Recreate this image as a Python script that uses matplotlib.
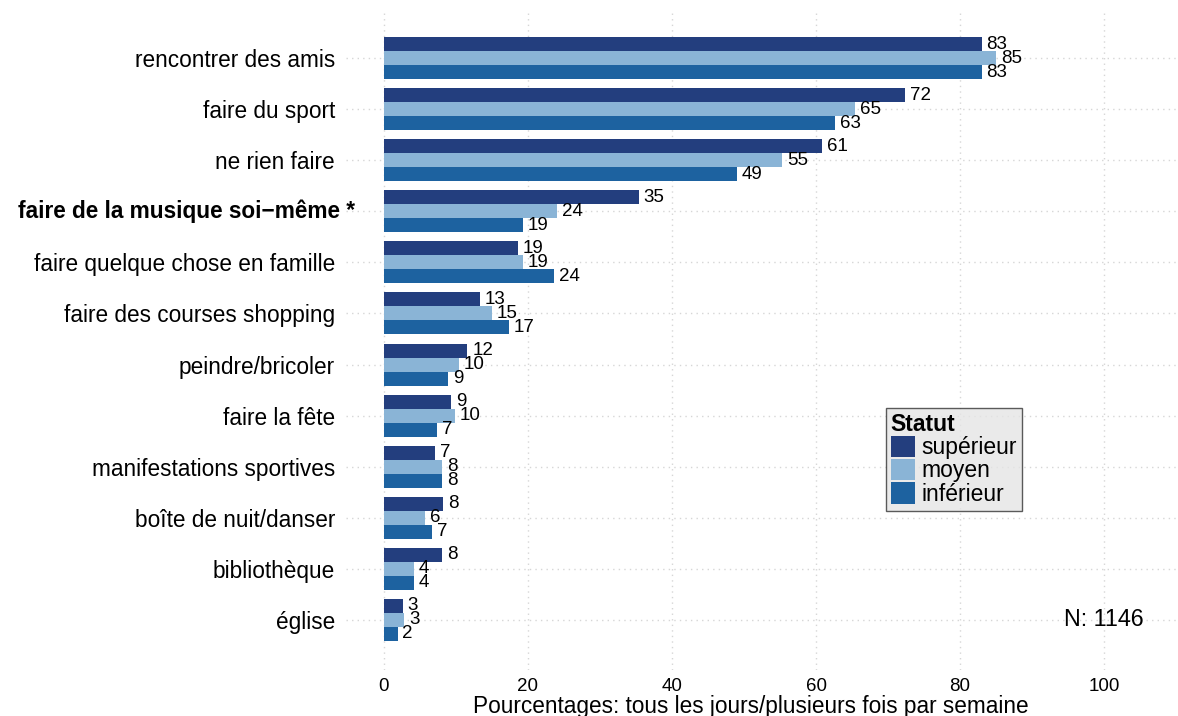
import numpy as np
import matplotlib
matplotlib.use("Agg")
import matplotlib.pyplot as plt
from matplotlib.patches import Patch
from matplotlib.transforms import blended_transform_factory

plt.rcParams['font.family'] = ['Liberation Sans', 'DejaVu Sans']

# activites, de haut en bas
activites = ["rencontrer des amis", "faire du sport", "ne rien faire",
             "faire de la musique soi\u2212même *", "faire quelque chose en famille",
             "faire des courses shopping", "peindre/bricoler", "faire la fête",
             "manifestations sportives", "boîte de nuit/danser", "bibliothèque", "église"]

statuts = ["supérieur", "moyen", "inférieur"]
couleurs = ["#233E7E", "#8AB4D6", "#1D62A0"]

superieur = [83.0, 72.4, 60.8, 35.4, 18.6, 13.3, 11.6, 9.3, 7.1, 8.2, 8.1, 2.6]
moyen     = [85.0, 65.4, 55.3, 24.0, 19.3, 15.0, 10.4, 9.9, 8.1, 5.7, 4.2, 2.8]
inferieur = [83.0, 62.6, 49.0, 19.3, 23.6, 17.4, 8.9, 7.4, 8.1, 6.7, 4.2, 1.9]

gras = "faire de la musique soi\u2212même *"
n_total = 1146

fig = plt.figure(figsize=(11.78, 7.16), dpi=100)
ax = fig.add_axes([346 / 1178, 1 - 670 / 716, 1 - 346 / 1178, (670 - 9) / 716])

ypos = np.arange(len(activites))[::-1].astype(float)
h = 0.274
series = [superieur, moyen, inferieur]
for i, (vals, col) in enumerate(zip(series, couleurs)):
    yy = ypos + (1 - i) * h
    ax.barh(yy, vals, height=h, color=col, linewidth=0, zorder=2)
    for y, v in zip(yy, vals):
        ax.annotate(f"{v:.0f}", (v, y), xytext=(3.5, 0), textcoords="offset points",
                    ha="left", va="center", fontsize=13.5, color="black", zorder=3)

ax.set_xlim(-5.25, 110.25)
ax.set_ylim(-0.98, len(activites) - 1 + 0.96)
ax.set_xticks([0, 20, 40, 60, 80, 100])
ax.set_yticks(ypos)
# le libelle en gras est dessine a part (il depasse un peu a droite)
ax.set_yticklabels(["" if a == gras else a for a in activites], fontsize=16.3)
trans = blended_transform_factory(ax.transAxes, ax.transData)
ax.text(9 / 832, ypos[activites.index(gras)], gras, transform=trans, ha="right",
        va="center", fontsize=16.3, fontweight="bold")
ax.tick_params(axis="x", labelsize=13.5, length=0, pad=6)
ax.tick_params(axis="y", length=0, pad=8)
ax.grid(True, linestyle=(0, (1, 3)), color="#D6D6D6", linewidth=1, zorder=0)
for s in ax.spines.values():
    s.set_visible(False)
ax.set_xlabel("Pourcentages: tous les jours/plusieurs fois par semaine", fontsize=16.3)
ax.xaxis.set_label_coords(0.487, -0.055)
ax.xaxis.label.set_va("center")

ax.text(100, ypos[-1], f"N: {n_total}", ha="center", va="center", fontsize=16.8)

handles = [Patch(facecolor=c, edgecolor="none") for c in couleurs]
leg = ax.legend(handles, statuts, title="Statut", loc="upper left",
                bbox_to_anchor=((886 - 346) / (1178 - 346), 1 - (408 - 9) / 661),
                fontsize=16.5, title_fontsize=16.5, frameon=True, fancybox=False,
                handlelength=1.05, handleheight=1.05, handletextpad=0.3,
                labelspacing=0.0, borderpad=0.2, borderaxespad=0)
leg.get_title().set_fontweight("bold")
leg._legend_box.align = "left"
leg.get_frame().set_facecolor("#E5E5E5")
leg.get_frame().set_edgecolor("#333333")
leg.get_frame().set_linewidth(1)

fig.savefig("out.png", dpi=100)
